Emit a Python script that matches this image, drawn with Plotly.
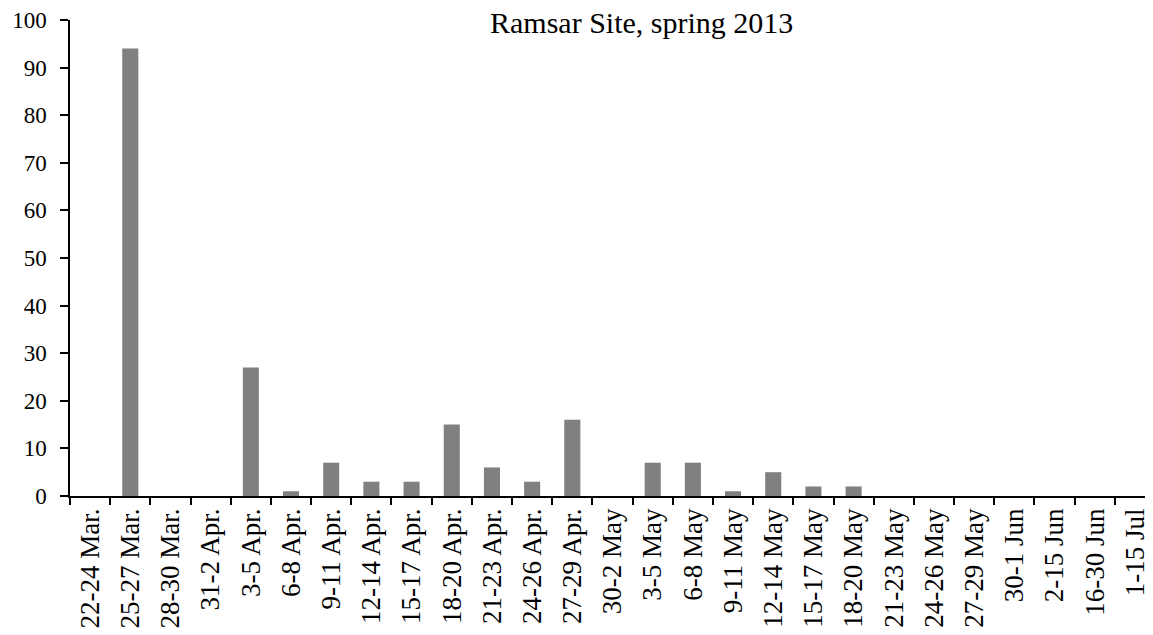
import plotly.graph_objects as go

categories = ["22-24 Mar.", "25-27 Mar.", "28-30 Mar.", "31-2 Apr.", "3-5 Apr.", "6-8 Apr.",
              "9-11 Apr.", "12-14 Apr.", "15-17 Apr.", "18-20 Apr.", "21-23 Apr.", "24-26 Apr.",
              "27-29 Apr.", "30-2 May", "3-5 May", "6-8 May", "9-11 May", "12-14 May",
              "15-17 May", "18-20 May", "21-23 May", "24-26 May", "27-29 May", "30-1 Jun",
              "2-15 Jun", "16-30 Jun", "1-15 Jul"]
counts = [0, 94, 0, 0, 27, 1, 7, 3, 3, 15, 6, 3, 16, 0, 7, 7, 1, 5, 2, 2, 0, 0, 0, 0, 0, 0, 0]
y_ticks = [0, 10, 20, 30, 40, 50, 60, 70, 80, 90, 100]
title_text = "Ramsar Site, spring 2013"

font_family = "Liberation Serif, Times New Roman, serif"

# page body adds an 8px offset; figure is sized to fit the viewport
W, H = 1145, 627
L, R, T, B = 62, 0, 12, 139
plot_w = W - L - R

fig = go.Figure(go.Bar(
    x=categories, y=counts,
    marker=dict(color="#808080", line=dict(width=0)),
    width=0.4,
))

fig.update_layout(
    width=W, height=H,
    margin=dict(l=L, r=R, t=T, b=B, autoexpand=False),
    plot_bgcolor="white", paper_bgcolor="white",
    showlegend=False,
    font=dict(family=font_family, size=23, color="black"),
)

fig.add_annotation(
    text=title_text, xref="paper", yref="paper",
    x=(633 - L) / plot_w, y=0.955, xanchor="center", yanchor="bottom",
    showarrow=False, font=dict(family=font_family, size=30, color="black"),
)

fig.update_xaxes(
    type="category", range=[-0.5, 26.45], automargin=False,
    showline=True, linecolor="black", linewidth=1.5,
    ticks="outside", ticklen=7, tickcolor="black", tickwidth=1.5,
    tickson="boundaries", tickangle=-90,
    showgrid=False, zeroline=False,
    tickfont=dict(family=font_family, size=27, color="black"),
)
fig.update_yaxes(
    range=[0, 100], tickvals=y_ticks, automargin=False,
    showline=True, linecolor="black", linewidth=1.5,
    ticks="outside", ticklen=8, tickcolor="black", tickwidth=1.5,
    ticklabelstandoff=9,
    showgrid=False, zeroline=False,
    tickfont=dict(family=font_family, size=23, color="black"),
)

fig.write_html("out.html")
